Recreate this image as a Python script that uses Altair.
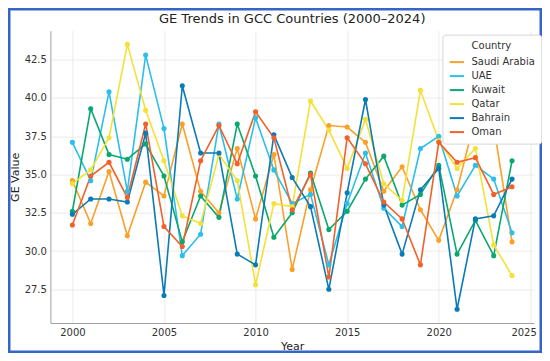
import altair as alt
import pandas as pd

years = list(range(2000, 2025))
countries = ["Saudi Arabia", "UAE", "Kuwait", "Qatar", "Bahrain", "Oman"]
colors = ["#f9a12a", "#2bbfea", "#0aa86e", "#f5e03a", "#0a7bb5", "#f2612a"]

saudi = [34.6, 31.8, 35.2, 31.0, 34.5, 33.6, 38.3, 33.9, 32.5, 36.7, 32.1, 36.3, 28.8,
         34.0, 38.2, 38.1, 37.1, 33.9, 35.5, 32.7, 30.7, 34.0, 38.7, 38.2, 30.6]
uae = [37.1, 34.6, 40.4, 33.9, 42.8, 38.0, 29.7, 31.1, 38.3, 33.4, 38.7, 35.3, 33.1,
       33.7, 29.1, 33.1, 36.4, 32.8, 31.6, 36.7, 37.5, 33.6, 35.6, 34.7, 31.2]
kuwait = [32.6, 39.3, 36.3, 36.0, 37.0, 34.9, 30.6, 33.6, 32.2, 38.3, 34.9, 30.9, 32.5,
          35.1, 31.4, 32.6, 34.7, 36.2, 33.0, 33.7, 35.6, 29.8, 32.0, 29.7, 35.9]
qatar = [34.4, 35.3, 37.4, 43.5, 39.2, 35.9, 32.3, 31.8, 36.3, 34.6, 27.8, 33.1, 32.9,
         39.8, 37.9, 35.4, 38.6, 34.4, 33.3, 40.5, 37.2, 35.4, 36.7, 30.4, 28.4]
bahrain = [32.4, 33.4, 33.4, 33.2, 37.7, 27.1, 40.8, 36.4, 36.4, 29.8, 29.1, 37.6, 34.8,
           32.9, 27.5, 33.8, 39.9, 33.0, 29.8, 34.0, 35.4, 26.2, 32.1, 32.3, 34.7]
oman = [31.7, 34.9, 35.8, 33.5, 38.3, 31.6, 30.3, 35.9, 38.2, 35.7, 39.1, 37.4, 32.7,
        35.0, 28.3, 37.4, 35.7, 33.2, 32.1, 29.1, 37.1, 35.8, 36.1, 33.7, 34.2]

x_ticks = [2000, 2005, 2010, 2015, 2020, 2025]
y_ticks = [27.5, 30.0, 32.5, 35.0, 37.5, 40.0, 42.5]

series = [saudi, uae, kuwait, qatar, bahrain, oman]
rows = []
for name, vals in zip(countries, series):
    for yr, v in zip(years, vals):
        rows.append({"Year": yr, "Value": v, "Country": name})
df = pd.DataFrame(rows)

FONT = "DejaVu Sans"
W, H = 483.6, 292.4
PL, PT, PR, PB = 42.4, 22.6, 8, 30

lines = alt.Chart(df).mark_line(
    strokeWidth=1.6,
    point=alt.OverlayMarkDef(size=26, filled=True, opacity=1),
).encode(
    x=alt.X("Year:Q", title="Year",
            scale=alt.Scale(domain=[1998.8, 2025.2], nice=False, zero=False),
            axis=alt.Axis(values=x_ticks, format="d",
                          labelFlush=8, labelFlushOffset=6)),
    y=alt.Y("Value:Q", title="GE Value",
            scale=alt.Scale(domain=[25.3, 44.4], nice=False, zero=False),
            axis=alt.Axis(values=y_ticks, format=".1f")),
    color=alt.Color("Country:N",
                    scale=alt.Scale(domain=countries, range=colors),
                    legend=alt.Legend(title="Country", orient="none",
                                      legendX=392, legendY=4,
                                      symbolType="stroke", symbolSize=200,
                                      symbolStrokeWidth=2,
                                      labelFontSize=10, titleFontSize=10,
                                      labelFont=FONT, titleFont=FONT,
                                      titleFontWeight="normal", titleAnchor="middle",
                                      titleColor="#333", labelColor="#333",
                                      padding=6, rowPadding=0, labelOffset=6,
                                      titlePadding=3,
                                      strokeColor="#d6d6d6", fillColor="white",
                                      cornerRadius=3)),
    order="Year:Q",
)

frame = alt.Chart(pd.DataFrame({"a": [0]})).mark_rect(
    fill=None, stroke="#3565c8", strokeWidth=2.5
).encode(
    x=alt.value(-PL + 1.25), x2=alt.value(W + PR - 1.25),
    y=alt.value(-PT + 1.25), y2=alt.value(H + PB - 1.25),
)

chart = alt.layer(lines, frame).properties(
    width=W, height=H,
    title=alt.TitleParams("GE Trends in GCC Countries (2000–2024)", fontSize=13,
                          font=FONT, fontWeight="normal", color="#222",
                          anchor="middle", frame="group", offset=-18),
    autosize=alt.AutoSizeParams(type="none"),
    padding={"left": PL, "top": PT, "right": PR, "bottom": PB},
    background="white",
).configure_view(stroke=None).configure_axis(
    labelFont=FONT, titleFont=FONT, labelFontSize=10, titleFontSize=11,
    labelColor="#333", titleColor="#222", titleFontWeight="normal",
    gridColor="#e6e6e6", gridWidth=0.8, domainColor="#a0a0a0", domainWidth=1,
    ticks=False, labelPadding=4,
).configure_axisX(titlePadding=3).configure_axisY(titlePadding=4)

chart.save("out.html", embed_options={"renderer": "svg", "actions": False})
